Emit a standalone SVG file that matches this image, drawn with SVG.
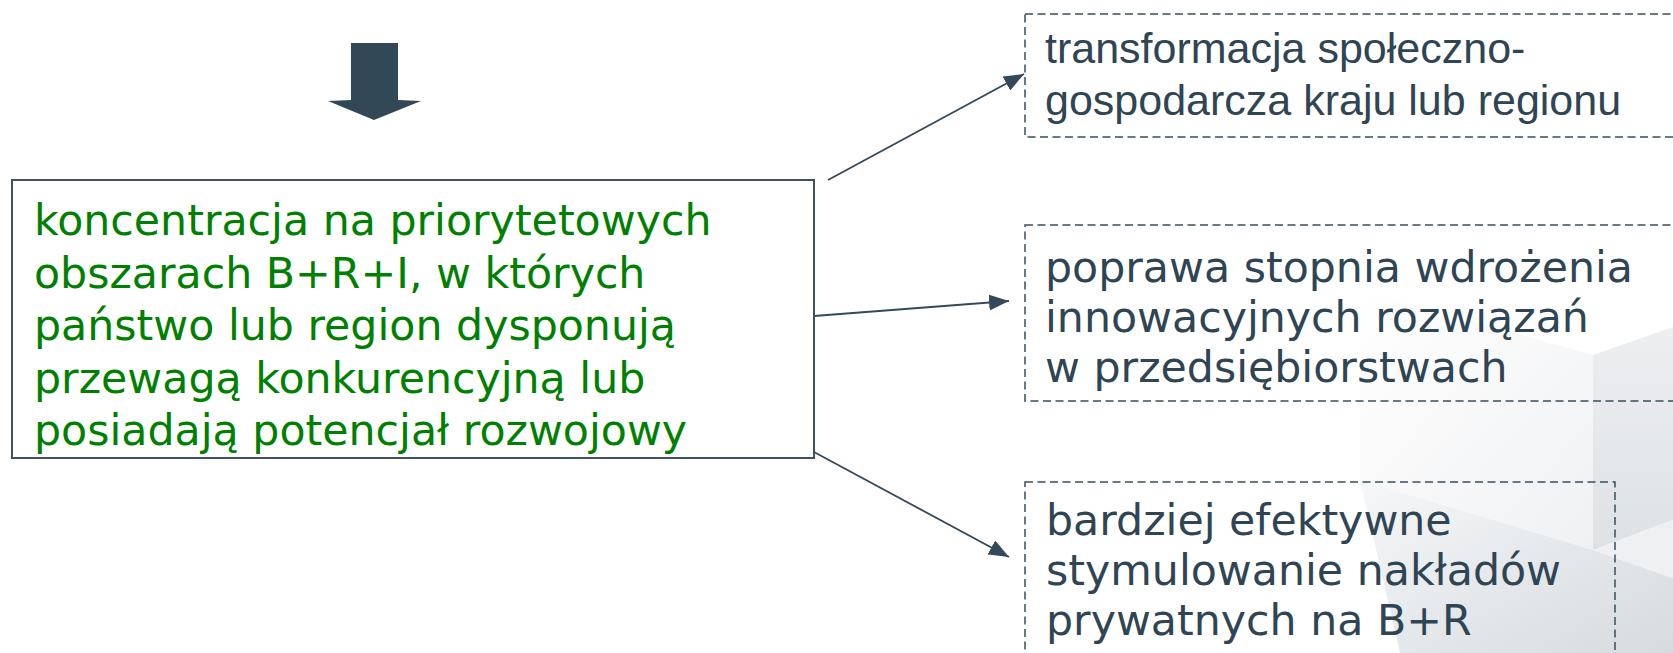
<svg xmlns="http://www.w3.org/2000/svg" width="1673" height="653" viewBox="0 0 1673 653">
  <style>
    .dk { font-family: "DejaVu Sans", Verdana, sans-serif; font-size: 42.7px; }
    .ar { font-family: "Liberation Sans", Arial, sans-serif; font-size: 43px; }
    .green { fill: #008000; }
    .slate { fill: #2f4554; }
    .dash { fill: none; stroke: #3a4f5c; stroke-width: 1.5; stroke-dasharray: 8 4.5; }
    .conn { stroke: #34495a; stroke-width: 1.8; fill: none; }
  </style>
  <defs>
    <marker id="ah" viewBox="0 0 20 16" refX="20" refY="8" markerWidth="20" markerHeight="16" markerUnits="userSpaceOnUse" orient="auto">
      <path d="M0,0 L20,8 L0,16 Z" fill="#34495a"/>
    </marker>
    <linearGradient id="gA" x1="0" y1="0" x2="1" y2="1">
      <stop offset="0" stop-color="#ffffff"/>
      <stop offset="1" stop-color="#f0f1f3"/>
    </linearGradient>
    <linearGradient id="gB" x1="0" y1="0" x2="0" y2="1">
      <stop offset="0" stop-color="#eceef0"/>
      <stop offset="1" stop-color="#dfe2e5"/>
    </linearGradient>
    <linearGradient id="gC" x1="0" y1="0" x2="1" y2="1">
      <stop offset="0" stop-color="#f6f7f8"/>
      <stop offset="1" stop-color="#d6dbdf"/>
    </linearGradient>
  </defs>
  <rect width="1673" height="653" fill="#ffffff"/>
  <g id="background">
    <polygon points="1360,290 1593,355 1593,550 1360,480" fill="url(#gA)"/>
    <polygon points="1593,355 1673,327 1673,520 1593,550" fill="url(#gB)"/>
    <polygon points="1360,480 1593,550 1673,578 1673,653 1400,653" fill="url(#gC)"/>
    <polygon points="1593,550 1673,520 1673,578" fill="#eef0f2"/>
  </g>
  <g id="arrow-down">
    <polygon points="351,43 398,43 398,100 421,101 374,120 328,101 351,100" fill="#324856"/>
  </g>
  <g id="connectors">
    <line class="conn" x1="828" y1="180" x2="1024" y2="74" marker-end="url(#ah)"/>
    <line class="conn" x1="814" y1="316" x2="1009" y2="301" marker-end="url(#ah)"/>
    <line class="conn" x1="814" y1="452" x2="1009" y2="557" marker-end="url(#ah)"/>
  </g>
  <g id="main-node">
    <rect x="12" y="180" width="802" height="278" fill="#ffffff" stroke="#3e5260" stroke-width="2"/>
    <text class="dk green">
      <tspan x="34" y="235">koncentracja na priorytetowych</tspan>
      <tspan x="34" y="287.5">obszarach B+R+I, w których</tspan>
      <tspan x="34" y="340">państwo lub region dysponują</tspan>
      <tspan x="34" y="392.5">przewagą konkurencyjną lub</tspan>
      <tspan x="34" y="445">posiadają potencjał rozwojowy</tspan>
    </text>
  </g>
  <g id="node-1">
    <rect class="dash" x="1025" y="14" width="700" height="123"/>
    <text class="ar slate">
      <tspan x="1045" y="63">transformacja społeczno-</tspan>
      <tspan x="1045" y="115">gospodarcza kraju lub regionu</tspan>
    </text>
  </g>
  <g id="node-2">
    <rect class="dash" x="1025" y="225" width="700" height="176"/>
    <text class="dk slate">
      <tspan x="1045" y="282">poprawa stopnia wdrożenia</tspan>
      <tspan x="1045" y="332">innowacyjnych rozwiązań</tspan>
      <tspan x="1045" y="382">w przedsiębiorstwach</tspan>
    </text>
  </g>
  <g id="node-3">
    <rect class="dash" x="1025" y="482" width="590" height="200"/>
    <text class="dk slate">
      <tspan x="1046" y="535">bardziej efektywne</tspan>
      <tspan x="1046" y="585">stymulowanie nakładów</tspan>
      <tspan x="1046" y="635">prywatnych na B+R</tspan>
    </text>
  </g>
</svg>
